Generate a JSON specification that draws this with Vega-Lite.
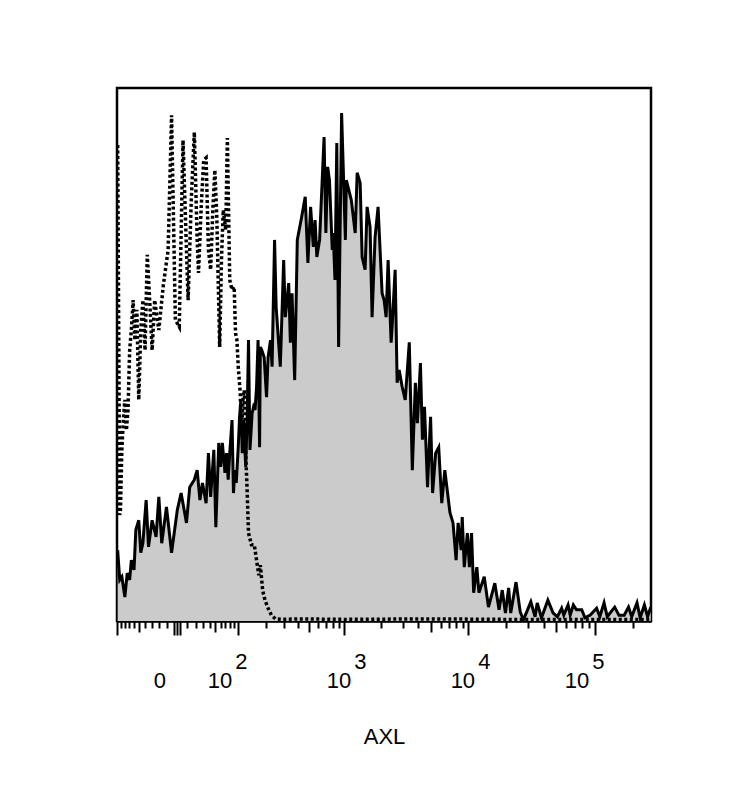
{
  "$schema": "https://vega.github.io/schema/vega-lite/v6.json",
  "width": 534,
  "height": 533,
  "padding": {"left": 99, "top": 88, "right": 5, "bottom": 5},
  "config": {"view": {"stroke": "#000000", "strokeWidth": 2.5}, "font": "Liberation Sans"},
  "datasets": {
    "axl": [
      {"intensity": -98.2, "count": 13.3}, {"intensity": -92.7, "count": 7.7}, {"intensity": -87.3, "count": 8.3}, {"intensity": -80, "count": 4.5},
      {"intensity": -74.5, "count": 9.0}, {"intensity": -69.1, "count": 7.7}, {"intensity": -65.5, "count": 11.4}, {"intensity": -60, "count": 9.6},
      {"intensity": -56.4, "count": 17.1}, {"intensity": -50.9, "count": 18.9}, {"intensity": -47.3, "count": 12.8}, {"intensity": -43.6, "count": 14.6},
      {"intensity": -38.2, "count": 22.7}, {"intensity": -34.5, "count": 13.9}, {"intensity": -29.1, "count": 18.9}, {"intensity": -23.6, "count": 15.8},
      {"intensity": -20, "count": 23.3}, {"intensity": -16.4, "count": 14.6}, {"intensity": -10.9, "count": 21.4}, {"intensity": -5.5, "count": 12.8},
      {"intensity": 0, "count": 20.8}, {"intensity": 3.6, "count": 24.0}, {"intensity": 9.1, "count": 18.4}, {"intensity": 12.7, "count": 25.1},
      {"intensity": 18.2, "count": 26.5}, {"intensity": 21.8, "count": 28.3}, {"intensity": 25.5, "count": 22.7}, {"intensity": 29.1, "count": 25.9},
      {"intensity": 34.5, "count": 22.1}, {"intensity": 38.2, "count": 31.5}, {"intensity": 41.8, "count": 23.3}, {"intensity": 47.3, "count": 32.1},
      {"intensity": 50.9, "count": 17.6}, {"intensity": 56.4, "count": 33.4}, {"intensity": 60, "count": 28.9}, {"intensity": 63.6, "count": 33.4},
      {"intensity": 69.1, "count": 27.8}, {"intensity": 72.7, "count": 31.5}, {"intensity": 76.4, "count": 26.5}, {"intensity": 80, "count": 31.5},
      {"intensity": 85.5, "count": 37.7}, {"intensity": 89.1, "count": 24.0}, {"intensity": 92.7, "count": 28.3}, {"intensity": 96.4, "count": 25.9},
      {"intensity": 101.8, "count": 32.6}, {"intensity": 105.5, "count": 38.3}, {"intensity": 109.3, "count": 41.5}, {"intensity": 113.3, "count": 31.5},
      {"intensity": 117.4, "count": 37.7}, {"intensity": 123.9, "count": 28.9}, {"intensity": 128.4, "count": 37.7}, {"intensity": 133, "count": 52.7},
      {"intensity": 137.9, "count": 32.1}, {"intensity": 145.5, "count": 39.0}, {"intensity": 150.7, "count": 40.2}, {"intensity": 156.2, "count": 39.6},
      {"intensity": 161.9, "count": 43.9}, {"intensity": 167.8, "count": 52.7}, {"intensity": 173.9, "count": 32.6}, {"intensity": 177, "count": 51.4},
      {"intensity": 183.4, "count": 50.8}, {"intensity": 193.4, "count": 49.5}, {"intensity": 204.1, "count": 42.0}, {"intensity": 211.5, "count": 49.5},
      {"intensity": 223.3, "count": 52.7}, {"intensity": 231.2, "count": 47.7}, {"intensity": 244.2, "count": 71.5}, {"intensity": 252.8, "count": 58.9},
      {"intensity": 276.6, "count": 47.7}, {"intensity": 297.2, "count": 67.7}, {"intensity": 307.7, "count": 57.0}, {"intensity": 330.6, "count": 63.4},
      {"intensity": 342.3, "count": 52.2}, {"intensity": 354.5, "count": 61.5}, {"intensity": 374.3, "count": 45.2}, {"intensity": 395.2, "count": 71.5},
      {"intensity": 431.9, "count": 75.8}, {"intensity": 464.2, "count": 79.6}, {"intensity": 489.9, "count": 67.2}, {"intensity": 517.3, "count": 77.7},
      {"intensity": 546.1, "count": 70.2}, {"intensity": 565.5, "count": 75.2}, {"intensity": 585.6, "count": 68.3}, {"intensity": 618.3, "count": 71.5},
      {"intensity": 675.1, "count": 90.8}, {"intensity": 699.1, "count": 72.8}, {"intensity": 723.9, "count": 85.2}, {"intensity": 749.7, "count": 82.7},
      {"intensity": 791.6, "count": 69.6}, {"intensity": 805.9, "count": 72.8}, {"intensity": 834.5, "count": 64.0}, {"intensity": 864.2, "count": 89.7},
      {"intensity": 894.9, "count": 51.4}, {"intensity": 947.9, "count": 95.3}, {"intensity": 1018.9, "count": 71.5}, {"intensity": 1038.1, "count": 82.7},
      {"intensity": 1140, "count": 79.0}, {"intensity": 1228.5, "count": 72.8}, {"intensity": 1275.3, "count": 84.1}, {"intensity": 1349, "count": 82.2},
      {"intensity": 1400.4, "count": 68.3}, {"intensity": 1481.3, "count": 65.9}, {"intensity": 1537.8, "count": 77.7}, {"intensity": 1626.7, "count": 73.9},
      {"intensity": 1688.6, "count": 57.0}, {"intensity": 1786.2, "count": 72.0}, {"intensity": 1889.4, "count": 77.7}, {"intensity": 2036.9, "count": 61.5},
      {"intensity": 2114.5, "count": 60.2}, {"intensity": 2195, "count": 57.0}, {"intensity": 2278.6, "count": 67.7}, {"intensity": 2410, "count": 52.2},
      {"intensity": 2455, "count": 55.2}, {"intensity": 2596.6, "count": 65.9}, {"intensity": 2695.4, "count": 44.7}, {"intensity": 2798, "count": 47.1},
      {"intensity": 2959.6, "count": 43.9}, {"intensity": 3130.3, "count": 41.5}, {"intensity": 3374.5, "count": 52.3}, {"intensity": 3569.2, "count": 28.3},
      {"intensity": 3775.2, "count": 44.7}, {"intensity": 3918.9, "count": 37.1}, {"intensity": 4145, "count": 48.4}, {"intensity": 4302.9, "count": 34.0},
      {"intensity": 4466.8, "count": 40.2}, {"intensity": 4724.6, "count": 25.1}, {"intensity": 4997.2, "count": 38.3}, {"intensity": 5187.6, "count": 24.0},
      {"intensity": 5487, "count": 31.5}, {"intensity": 5803.6, "count": 32.6}, {"intensity": 6138.5, "count": 22.1}, {"intensity": 6492.8, "count": 28.3},
      {"intensity": 7136.5, "count": 20.3}, {"intensity": 7548.5, "count": 18.4}, {"intensity": 7984, "count": 11.4}, {"intensity": 8288.6, "count": 18.4},
      {"intensity": 8767, "count": 13.3}, {"intensity": 8934, "count": 19.5}, {"intensity": 9277, "count": 10.1}, {"intensity": 9815, "count": 16.5},
      {"intensity": 10195, "count": 10.1}, {"intensity": 10598, "count": 16.5}, {"intensity": 11016, "count": 5.3}, {"intensity": 11673, "count": 10.1},
      {"intensity": 12134, "count": 5.3}, {"intensity": 13366, "count": 8.3}, {"intensity": 14443, "count": 2.6}, {"intensity": 16221, "count": 7.1},
      {"intensity": 17530, "count": 2.1}, {"intensity": 18580, "count": 5.8}, {"intensity": 19693, "count": 1.5}, {"intensity": 20872, "count": 6.2},
      {"intensity": 21691, "count": 1.5}, {"intensity": 23895, "count": 7.3}, {"intensity": 25803, "count": 1.7}, {"intensity": 27348, "count": 0.2},
      {"intensity": 31307, "count": 3.6}, {"intensity": 33839, "count": 0.8}, {"intensity": 35181, "count": 3.4}, {"intensity": 38026, "count": 0.6},
      {"intensity": 42717, "count": 3.9}, {"intensity": 47027, "count": 1.5}, {"intensity": 50830, "count": 0.8}, {"intensity": 54941, "count": 2.4},
      {"intensity": 57123, "count": 1.1}, {"intensity": 61744, "count": 3.0}, {"intensity": 64194, "count": 1.1}, {"intensity": 67989, "count": 3.0},
      {"intensity": 71969, "count": 2.1}, {"intensity": 79244, "count": 2.1}, {"intensity": 83928, "count": 0.6}, {"intensity": 92565, "count": 1.1},
      {"intensity": 103946, "count": 2.4}, {"intensity": 110160, "count": 0.8}, {"intensity": 119040, "count": 3.4}, {"intensity": 126150, "count": 0.8},
      {"intensity": 144430, "count": 2.6}, {"intensity": 156060, "count": 1.1}, {"intensity": 171890, "count": 1.1}, {"intensity": 185800, "count": 2.6},
      {"intensity": 196930, "count": 0.8}, {"intensity": 216910, "count": 3.4}, {"intensity": 229840, "count": 0.6}, {"intensity": 248260, "count": 3.0},
      {"intensity": 263070, "count": 0.8}, {"intensity": 278800, "count": 2.6}
    ],
    "control": [
      {"intensity": -98.2, "count": 89.3}, {"intensity": -92.7, "count": 19.9}, {"intensity": -90.9, "count": 20.8}, {"intensity": -87.3, "count": 32.1},
      {"intensity": -83.6, "count": 37.7}, {"intensity": -80, "count": 41.5}, {"intensity": -76.4, "count": 35.8}, {"intensity": -72.7, "count": 39.6},
      {"intensity": -69.1, "count": 50.8}, {"intensity": -65.5, "count": 54.6}, {"intensity": -61.8, "count": 60.2}, {"intensity": -58.2, "count": 52.7},
      {"intensity": -54.5, "count": 58.4}, {"intensity": -50.9, "count": 41.5}, {"intensity": -47.3, "count": 54.6}, {"intensity": -43.6, "count": 60.2},
      {"intensity": -40, "count": 50.8}, {"intensity": -36.4, "count": 68.7}, {"intensity": -32.7, "count": 60.2}, {"intensity": -29.1, "count": 50.8},
      {"intensity": -25.5, "count": 60.2}, {"intensity": -20, "count": 54.6}, {"intensity": -14.5, "count": 63.0}, {"intensity": -9.1, "count": 69.6},
      {"intensity": -5.5, "count": 94.9}, {"intensity": -1.8, "count": 56.5}, {"intensity": 1.8, "count": 55.2}, {"intensity": 5.5, "count": 90.2},
      {"intensity": 9.1, "count": 69.6}, {"intensity": 10.9, "count": 60.2}, {"intensity": 14.5, "count": 79.0}, {"intensity": 18.2, "count": 91.7},
      {"intensity": 21.8, "count": 71.5}, {"intensity": 23.6, "count": 65.3}, {"intensity": 27.3, "count": 77.7}, {"intensity": 30.9, "count": 86.5},
      {"intensity": 34.5, "count": 86.9}, {"intensity": 38.2, "count": 69.6}, {"intensity": 41.8, "count": 65.9}, {"intensity": 45.5, "count": 77.1},
      {"intensity": 49.1, "count": 84.6}, {"intensity": 52.7, "count": 75.8}, {"intensity": 58.2, "count": 51.4}, {"intensity": 61.8, "count": 67.7},
      {"intensity": 65.5, "count": 77.1}, {"intensity": 70.9, "count": 73.4}, {"intensity": 74.5, "count": 90.6}, {"intensity": 80, "count": 64.0},
      {"intensity": 85.5, "count": 62.1}, {"intensity": 90.9, "count": 62.7}, {"intensity": 94.5, "count": 54.0}, {"intensity": 98.2, "count": 52.7},
      {"intensity": 101.8, "count": 47.7}, {"intensity": 107.4, "count": 42.8}, {"intensity": 111.3, "count": 35.3}, {"intensity": 115.3, "count": 41.5},
      {"intensity": 119.5, "count": 43.3}, {"intensity": 123.9, "count": 31.5}, {"intensity": 128.4, "count": 24.6}, {"intensity": 133, "count": 16.5},
      {"intensity": 142.9, "count": 14.3}, {"intensity": 153.4, "count": 14.3}, {"intensity": 161.9, "count": 11.4}, {"intensity": 170.8, "count": 8.6},
      {"intensity": 177, "count": 10.5}, {"intensity": 186.7, "count": 5.8}, {"intensity": 197.1, "count": 3.9}, {"intensity": 211.5, "count": 2.4},
      {"intensity": 227.3, "count": 1.1}, {"intensity": 248.5, "count": 0.4}, {"intensity": 286.6, "count": 0.3}, {"intensity": 400, "count": 0.4},
      {"intensity": 1000, "count": 0.3}, {"intensity": 5000, "count": 0.4}, {"intensity": 20000, "count": 0.3}, {"intensity": 100000, "count": 0.3},
      {"intensity": 280000, "count": 0.3}
    ]
  },
  "encoding": {
    "x": {
      "field": "intensity",
      "type": "quantitative",
      "title": "AXL",
      "scale": {"type": "symlog", "constant": 50, "domain": [-100, 280000], "nice": false, "zero": false},
      "axis": {
        "values": [-100, -90, -80, -70, -60, -50, -40, -30, -20, -10, -3, 0, 3, 10, 20, 30, 40, 50, 60, 70, 80, 90, 100, 200, 300, 400, 500, 600, 700, 800, 900, 1000, 2000, 3000, 4000, 5000, 6000, 7000, 8000, 9000, 10000, 20000, 30000, 40000, 50000, 60000, 70000, 80000, 90000, 100000, 200000],
        "labelExpr": "datum.value == 0 ? ['', '0'] : datum.value == 100 ? ['\u200b\u00a0\u00a0\u00a0\u00a0\u00a0\u00a0\u00a02', '10'] : datum.value == 1000 ? ['\u200b\u00a0\u00a0\u00a0\u00a0\u00a0\u00a0\u00a03', '10'] : datum.value == 10000 ? ['\u200b\u00a0\u00a0\u00a0\u00a0\u00a0\u00a0\u00a04', '10'] : datum.value == 100000 ? ['\u200b\u00a0\u00a0\u00a0\u00a0\u00a0\u00a0\u00a05', '10'] : ''",
        "labelFont": "Liberation Sans",
        "labelFontSize": 22,
        "labelColor": "#000000",
        "labelLineHeight": 19,
        "labelPadding": 16,
        "labelOverlap": false,
        "labelFlush": false,
        "labelBound": false,
        "labelAngle": 0,
        "labelOffset": {"condition": {"test": "datum.value == 1000 || datum.value == 10000", "value": -6}, "value": -18},
        "tickSize": {"condition": [
          {"test": "indexof([-100, -3, 0, 3, 100, 1000, 10000, 100000], datum.value) >= 0", "value": 14},
          {"test": "indexof([-50, 50, 500, 5000, 50000], datum.value) >= 0", "value": 11}
        ], "value": 7},
        "tickColor": "#000000",
        "tickWidth": 2,
        "domainColor": "#000000",
        "domainWidth": 2.5,
        "grid": false,
        "titleFont": "Liberation Sans",
        "titleFontSize": 22,
        "titleFontWeight": "normal",
        "titleColor": "#000000",
        "titlePadding": 35
      }
    },
    "y": {
      "field": "count",
      "type": "quantitative",
      "scale": {"domain": [0, 100], "nice": false},
      "axis": null
    }
  },
  "layer": [
    {"data": {"name": "axl"}, "mark": {"type": "area", "color": "#cbcbcb", "clip": true}},
    {"data": {"name": "axl"}, "mark": {"type": "line", "color": "#000000", "strokeWidth": 3, "clip": true}},
    {"data": {"name": "control"}, "mark": {"type": "line", "color": "#000000", "strokeWidth": 3.5, "strokeDash": [3, 2.5], "clip": true}}
  ]
}
